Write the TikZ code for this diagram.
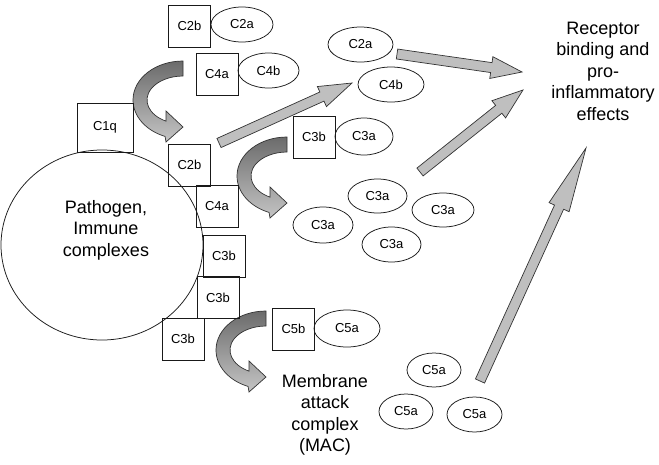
\documentclass[tikz,border=0pt]{standalone}
\usepackage{fontspec}
\setmainfont{Liberation Sans}
\usetikzlibrary{shapes.geometric,calc}
\tikzset{
 box/.style={draw=black!90, line width=0.75pt, minimum width=42pt, minimum height=42pt, inner sep=0pt, font=\fontsize{13}{15}\selectfont},
 oval/.style={draw=black!90, line width=0.75pt, ellipse, inner sep=0pt, font=\fontsize{13}{15}\selectfont},
 blockarr/.style={draw=black!80, line width=0.7pt, fill=black!25, line join=miter},
 curvarr/.style={draw=black!80, line width=0.7pt, top color=black!58, middle color=black!30, bottom color=black!23},
 bigtext/.style={align=center, font=\fontsize{18}{21.5}\selectfont, inner sep=0pt}
}
\newcommand{\barrowdraw}[4]{%
  \coordinate (#4h) at ($(#2)!#3!(#1)$);
  \path[blockarr] ($(#1)!5pt!90:(#2)$) -- ($(#4h)!5pt!90:(#2)$) -- ($(#4h)!11pt!90:(#2)$) -- (#2)
     -- ($(#4h)!11pt!-90:(#2)$) -- ($(#4h)!5pt!-90:(#2)$) -- ($(#1)!5pt!-90:(#2)$) -- cycle;
}
\newcommand{\curvarrdraw}[2]{%
  \begin{scope}[shift={(#1,#2)}]
  \path[curvarr] (183,61) arc[start angle=-90, end angle=-249, x radius=50, y radius=39]
     -- (166,142) -- (183,127) -- (166,111) -- (166.1,121.2)
     arc[start angle=-242, end angle=-90, x radius=36, y radius=24] -- cycle;
  \end{scope}}
\begin{document}
\begin{tikzpicture}[x=1pt,y=-1pt]
\useasboundingbox (0,0) rectangle (659,464);

% pathogen
\node[draw=black!90, line width=0.75pt, ellipse, minimum width=202pt, minimum height=190pt, inner sep=0pt] (path) at (102,245) {};
\node[bigtext] (pathtxt) at (106,230) {Pathogen,\\Immune\\complexes};

% curved arrows
\curvarrdraw{0}{0}
\curvarrdraw{104}{76}
\curvarrdraw{83}{250}

% boxes
\node[box] (c2bt) at (189.5,26) {C2b};
\node[box] (c4at) at (217,74.5) {C4a};
\node[box, minimum width=56pt, minimum height=49pt] (c1q) at (105,127.5) {C1q};
\node[box] (c2bm) at (189.5,165) {C2b};
\node[box] (c4am) at (217,206.5) {C4a};
\node[box] (c3b1) at (224,256) {C3b};
\node[box] (c3b2) at (218,297.5) {C3b};
\node[box] (c3b3) at (183,339) {C3b};
\node[box] (c5b) at (293.5,329) {C5b};
\node[box] (c3bt) at (314,137) {C3b};

% ellipses
\node[oval, minimum width=62pt, minimum height=35pt] (c2at) at (242,24.5) {C2a};
\node[oval, minimum width=61pt, minimum height=35pt] (c4bt) at (268.5,70.5) {C4b};
\node[oval, minimum width=65pt, minimum height=35pt] (c2ar) at (360.5,44.5) {C2a};
\node[oval, minimum width=66pt, minimum height=35pt] (c4br) at (391,84.5) {C4b};
\node[oval, minimum width=58pt, minimum height=37pt] (c3at) at (364,136.5) {C3a};
\node[oval, minimum width=59pt, minimum height=34pt] (c3a1) at (377.5,196) {C3a};
\node[oval, minimum width=62pt, minimum height=34pt] (c3a2) at (443,210) {C3a};
\node[oval, minimum width=59pt, minimum height=35pt] (c3a3) at (391.5,244.5) {C3a};
\node[oval, minimum width=60pt, minimum height=36pt] (c3a4) at (323,225) {C3a};
\node[oval, minimum width=66pt, minimum height=37pt] (c5a0) at (347,328.5) {C5a};
\node[oval, minimum width=54pt, minimum height=34pt] (c5a1) at (434,370) {C5a};
\node[oval, minimum width=54pt, minimum height=35pt] (c5a2) at (406,411.5) {C5a};
\node[oval, minimum width=55pt, minimum height=35pt] (c5a3) at (474.5,414.5) {C5a};

% texts
\node[bigtext] (rec) at (603,71) {Receptor\\binding and\\pro-\\inflammatory\\effects};
\node[bigtext] (mac) at (325,415) {Membrane\\attack\\complex\\(MAC)};

% straight arrows
\coordinate (a1t) at (219,143); \coordinate (a1p) at (352,83);
\coordinate (a2t) at (397,54);  \coordinate (a2p) at (522,72);
\coordinate (a3t) at (420,172); \coordinate (a3p) at (523,90);
\coordinate (a4t) at (480,381); \coordinate (a4p) at (586,148);
\barrowdraw{a1t}{a1p}{33pt}{a1}
\barrowdraw{a2t}{a2p}{31pt}{a2}
\barrowdraw{a3t}{a3p}{31pt}{a3}
\barrowdraw{a4t}{a4p}{65pt}{a4}
\end{tikzpicture}
\end{document}
